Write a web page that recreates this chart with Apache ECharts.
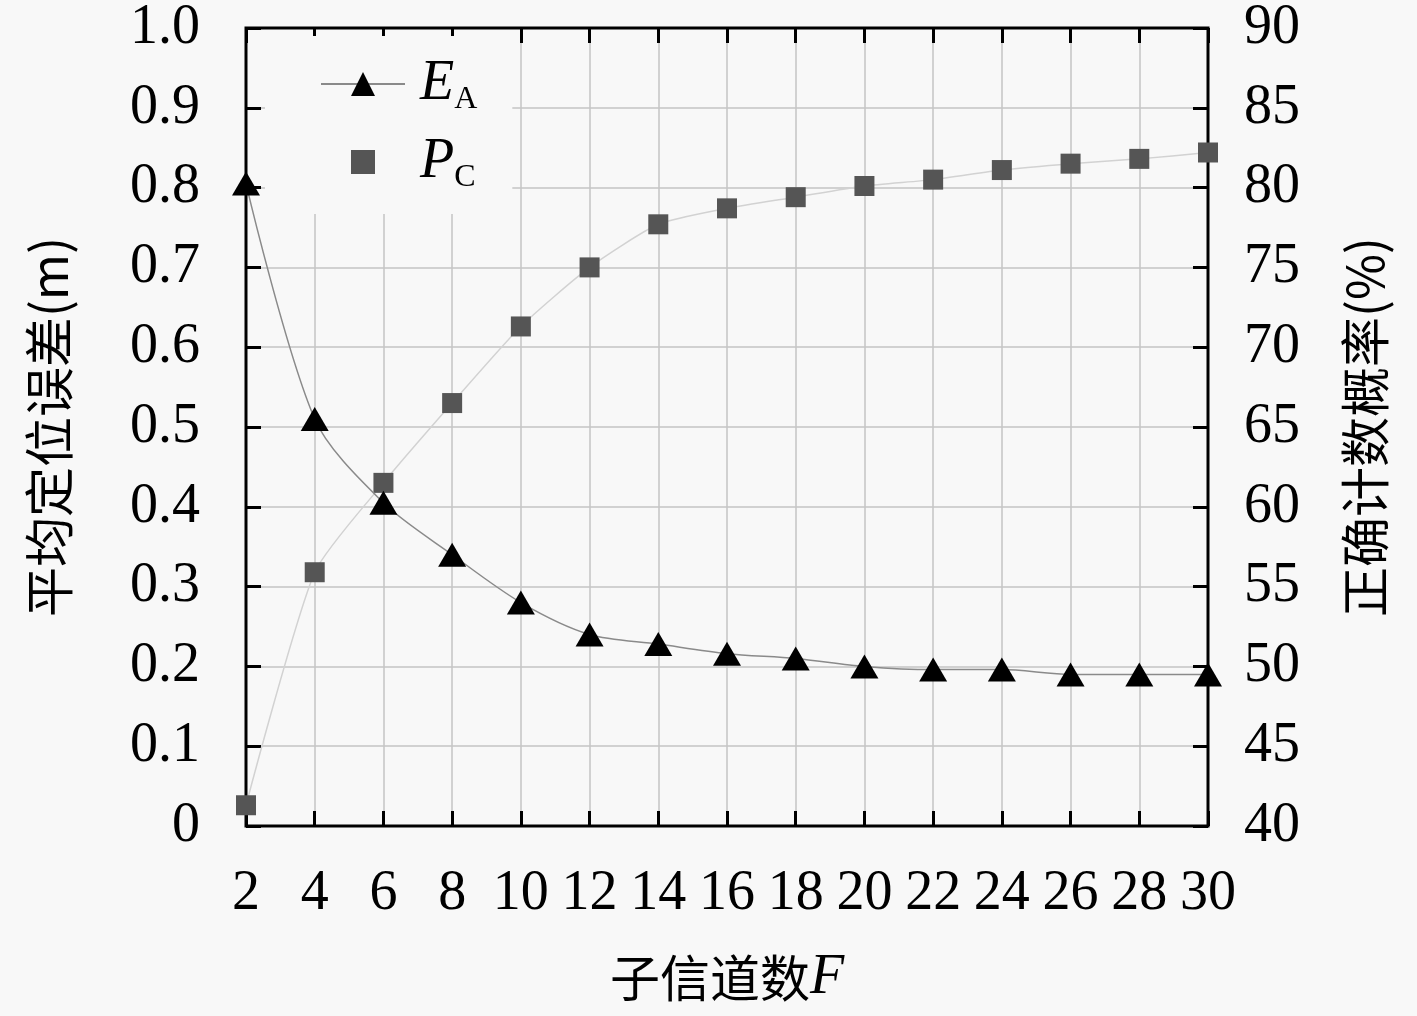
<!DOCTYPE html>
<html>
<head>
<meta charset="utf-8">
<script src="https://cdn.jsdelivr.net/npm/echarts@6/dist/echarts.min.js"></script>
<style>
html,body{margin:0;padding:0;background:#f8f8f8;}
#c{width:1417px;height:1016px;}
</style>
</head>
<body>
<div id="c"></div>
<script>
const categories = ['2','4','6','8','10','12','14','16','18','20','22','24','26','28','30'];
const errorEA = [0.805, 0.51, 0.405, 0.34, 0.28, 0.24, 0.228, 0.216, 0.21, 0.2, 0.196, 0.196, 0.19, 0.19, 0.19];
const probPC = [41.3, 55.9, 61.5, 66.5, 71.3, 75.0, 77.7, 78.7, 79.4, 80.1, 80.5, 81.1, 81.5, 81.8, 82.2];
const leftTicks = {min: 0, max: 1, interval: 0.1};
const rightTicks = {min: 40, max: 90, interval: 5};

const serif = 'Liberation Serif';
const cjk = 'Noto Sans CJK SC';
const chart = echarts.init(document.getElementById('c'));

const axisLabelStyle = {color: '#000', fontFamily: serif, fontSize: 56};

chart.setOption({
  backgroundColor: '#f8f8f8',
  animation: false,
  grid: {left: 246, right: 209, top: 18, bottom: 190, show: true, borderColor: '#000', borderWidth: 3, backgroundColor: 'transparent', z: 3},
  legend: {
    left: 265, top: 36,
    orient: 'vertical',
    backgroundColor: '#f8f8f8',
    padding: [20, 35, 20, 55],
    itemWidth: 84, itemHeight: 30,
    itemGap: 18,
    data: [{name: 'EA'}, {name: 'PC', lineStyle: {opacity: 0}}],
    formatter: function (n) { return n === 'EA' ? '{i|E}{s|A}' : '{i|P}{s|C}'; },
    textStyle: {
      padding: [0, 0, 0, 10],
      rich: {
        i: {fontFamily: serif, fontStyle: 'italic', fontSize: 56, color: '#000', lineHeight: 64},
        s: {fontFamily: serif, fontSize: 32, color: '#000', lineHeight: 30, verticalAlign: 'bottom'}
      }
    }
  },
  xAxis: [{
    type: 'category', data: categories, boundaryGap: false,
    name: '{c|子信道数}{f|F}', nameLocation: 'middle', nameGap: 124,
    nameTextStyle: {rich: {
      c: {fontFamily: cjk, fontSize: 50, color: '#000'},
      f: {fontFamily: serif, fontStyle: 'italic', fontSize: 56, color: '#000'}
    }},
    axisLine: {show: false},
    axisTick: {show: true, inside: true, length: 15, alignWithLabel: true, lineStyle: {color: '#000', width: 3}},
    axisLabel: Object.assign({margin: 40, interval: 0}, axisLabelStyle),
    splitLine: {show: true, lineStyle: {color: '#c4c4c4', width: 1.5}}
  }, {
    type: 'category', data: categories, boundaryGap: false, position: 'top',
    axisLine: {show: false},
    axisTick: {show: true, inside: true, length: 15, lineStyle: {color: '#000', width: 3}},
    axisLabel: {show: false},
    splitLine: {show: false}
  }],
  yAxis: [{
    type: 'value', min: leftTicks.min, max: leftTicks.max, interval: leftTicks.interval,
    name: '平均定位误差(m)', nameLocation: 'middle', nameGap: 172, nameRotate: 90,
    nameTextStyle: {fontFamily: cjk, fontSize: 50, color: '#000'},
    axisLine: {show: false},
    axisTick: {show: true, inside: true, length: 15, lineStyle: {color: '#000', width: 3}},
    axisLabel: Object.assign({margin: 46, formatter: function (v) { return v === 0 ? '0' : v.toFixed(1); }}, axisLabelStyle),
    splitLine: {show: true, lineStyle: {color: '#c4c4c4', width: 1.5}}
  }, {
    type: 'value', min: rightTicks.min, max: rightTicks.max, interval: rightTicks.interval,
    name: '正确计数概率(%)', nameLocation: 'middle', nameGap: 132, nameRotate: 90,
    nameTextStyle: {fontFamily: cjk, fontSize: 50, color: '#000'},
    axisLine: {show: false},
    axisTick: {show: true, inside: true, length: 15, lineStyle: {color: '#000', width: 3}},
    axisLabel: Object.assign({margin: 36}, axisLabelStyle),
    splitLine: {show: false}
  }],
  series: [{
    name: 'EA', type: 'line', yAxisIndex: 0, data: errorEA,
    smooth: 0.3,
    symbol: 'triangle', symbolSize: [28, 24],
    lineStyle: {color: '#8a8a8a', width: 1.5},
    itemStyle: {color: '#000'},
    z: 5
  }, {
    name: 'PC', type: 'line', yAxisIndex: 1, data: probPC,
    smooth: 0.2,
    symbol: 'rect', symbolSize: 20,
    lineStyle: {color: '#d2d2d2', width: 1.5},
    itemStyle: {color: '#555'},
    z: 4
  }]
});
</script>
</body>
</html>
